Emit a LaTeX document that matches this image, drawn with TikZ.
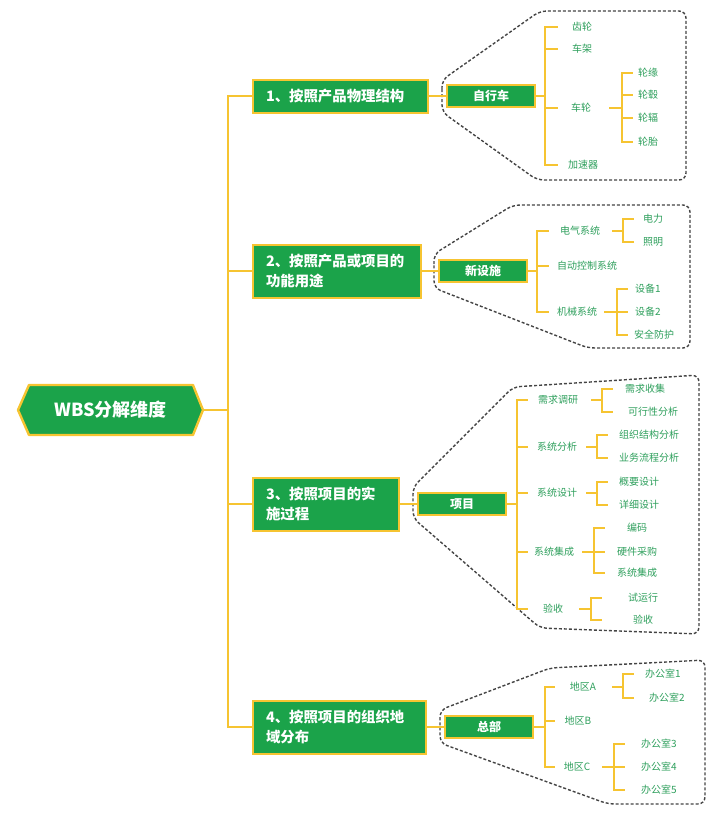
\documentclass[tikz,border=0pt]{standalone}
\usepackage{fontspec}
\setmainfont{Noto Sans CJK SC}
\definecolor{gr}{HTML}{1BA34A}
\definecolor{yl}{HTML}{F6C431}
\definecolor{tg}{HTML}{2E9F5C}
\definecolor{dg}{HTML}{444444}
\tikzset{
 yline/.style={draw=yl, line width=1.8pt, line cap=rect},
 trunk/.style={draw=yl, line width=2.6pt, line cap=rect},
 l1box/.style={fill=gr, draw=yl, line width=2pt, text=white, font=\fontsize{14.4}{20}\selectfont\bfseries, anchor=west, align=left, inner xsep=13pt, inner ysep=0pt},
 l2box/.style={fill=gr, draw=yl, line width=1.8pt, text=white, font=\fontsize{12}{14}\selectfont\bfseries, minimum width=88pt, minimum height=22pt, inner sep=0pt},
 leaf/.style={text=tg, font=\fontsize{10}{12}\selectfont, inner sep=1pt},
 callout/.style={draw=dg, line width=1.4pt, dash pattern=on 3pt off 2pt, rounded corners=7pt},
}
\newcommand\bkt[7]{%
 \draw[yline] (#1) -- (#3,0 |- #2);
 \draw[yline] (#3,0 |- #5) -- (#3,0 |- #6);
 \foreach \c in {#7} {\draw[yline] (#3,0 |- \c) -- (#4,0 |- \c);}
}
\begin{document}
\begin{tikzpicture}[x=1pt,y=-1pt]
\useasboundingbox (0,0) rectangle (720,820);
% callouts
\draw[callout] (442,96) -- (442,80) -- (540,11) -- (686,11) -- (686,180) -- (537,180) -- (442,112) -- cycle;
\draw[callout] (434,271) -- (434,254) -- (513,205) -- (690,205) -- (690,348) -- (588,348) -- (434,288) -- cycle;
\draw[callout] (413,503) -- (413,487) -- (513,387) -- (699,375) -- (699,634) -- (540,628) -- (413,518) -- cycle;
\draw[callout] (440,727) -- (440,710) -- (550,668) -- (705,660) -- (705,804) -- (608,804) -- (440,743) -- cycle;
% root
\fill[gr] (18,410) -- (29,385) -- (193,385) -- (203,410) -- (193,435) -- (29,435) -- cycle;
\draw[yl, line width=2.4pt, line join=round] (18,410) -- (29,385) -- (193,385) -- (203,410) -- (193,435) -- (29,435) -- cycle;
\node[text=white, font=\fontsize{18}{20}\selectfont\bfseries, minimum width=185pt, inner sep=0pt] (root) at (110.5,410) {WBS分解维度};
% level 1
\node[l1box, text width=149pt, minimum height=33pt] (b1) at (252,96) {1、按照产品物理结构};
\node[l1box, text width=142pt, minimum height=53pt] (b2) at (252,271) {2、按照产品或项目的\\功能用途};
\node[l1box, text width=120pt, minimum height=53pt] (b3) at (252,504) {3、按照项目的实\\施过程};
\node[l1box, text width=147pt, minimum height=53pt] (b4) at (252,727) {4、按照项目的组织地\\域分布};
\coordinate (tr) at (228,410);
\draw[trunk] (root.east) -- (tr);
\draw[trunk] (tr |- b1.west) -- (tr |- b4.west);
\foreach \b in {b1,b2,b3,b4} {\draw[trunk] (tr |- \b.west) -- (\b.west);}
% level 2
\node[l2box] (c1) at (491,96) {自行车};
\node[l2box] (c2) at (483,271) {新设施};
\node[l2box] (c3) at (462,504) {项目};
\node[l2box] (c4) at (489,727) {总部};
\foreach \i in {1,2,3,4} {\draw[yline] (b\i.east) -- (c\i.west);}
% group 1
\node[leaf] (a1) at (582,27) {齿轮};
\node[leaf] (a2) at (582,49) {车架};
\node[leaf] (a3) at (581,108) {车轮};
\node[leaf] (a4) at (583,165) {加速器};
\node[leaf] (a31) at (648,73) {轮缘};
\node[leaf] (a32) at (648,95) {轮毂};
\node[leaf] (a33) at (648,118) {轮辐};
\node[leaf] (a34) at (648,142) {轮胎};
\bkt{c1.east}{c1}{545}{557}{a1}{a4}{a1,a2,a3,a4}
\bkt{610,108}{a3}{622}{632}{a31}{a34}{a31,a32,a33,a34}
% group 2
\node[leaf] (e1) at (580,231) {电气系统};
\node[leaf] (e2) at (587,266) {自动控制系统};
\node[leaf] (e3) at (577,312) {机械系统};
\node[leaf] (e11) at (653,219) {电力};
\node[leaf] (e12) at (653,242) {照明};
\node[leaf] (e31) at (648,289) {设备1};
\node[leaf] (e32) at (648,312) {设备2};
\node[leaf] (e33) at (654,335) {安全防护};
\bkt{c2.east}{c2}{537}{548}{e1}{e3}{e1,e2,e3}
\bkt{613,231}{e1}{623}{633}{e11}{e12}{e11,e12}
\bkt{605,312}{e3}{617}{627}{e31}{e33}{e31,e32,e33}
% group 3
\node[leaf] (p1) at (558,400) {需求调研};
\node[leaf] (p2) at (557,447) {系统分析};
\node[leaf] (p3) at (557,493) {系统设计};
\node[leaf] (p4) at (554,552) {系统集成};
\node[leaf] (p5) at (553,609) {验收};
\node[leaf] (p11) at (645,389) {需求收集};
\node[leaf] (p12) at (653,412) {可行性分析};
\node[leaf] (p21) at (649,435) {组织结构分析};
\node[leaf] (p22) at (649,458) {业务流程分析};
\node[leaf] (p31) at (639,482) {概要设计};
\node[leaf] (p32) at (639,505) {详细设计};
\node[leaf] (p41) at (637,528) {编码};
\node[leaf] (p42) at (637,552) {硬件采购};
\node[leaf] (p43) at (637,573) {系统集成};
\node[leaf] (p51) at (643,598) {试运行};
\node[leaf] (p52) at (643,620) {验收};
\bkt{c3.east}{c3}{517}{527}{p1}{p5}{p1,p2,p3,p4,p5}
\bkt{592,400}{p1}{602}{612}{p11}{p12}{p11,p12}
\bkt{587,447}{p2}{597}{607}{p21}{p22}{p21,p22}
\bkt{587,493}{p3}{597}{607}{p31}{p32}{p31,p32}
\bkt{583,552}{p4}{594}{604}{p41}{p43}{p41,p42,p43}
\bkt{580,609}{p5}{591}{601}{p51}{p52}{p51,p52}
% group 4
\node[leaf] (d1) at (583,687) {地区A};
\node[leaf] (d2) at (578,721) {地区B};
\node[leaf] (d3) at (577,767) {地区C};
\node[leaf] (d11) at (663,674) {办公室1};
\node[leaf] (d12) at (667,698) {办公室2};
\node[leaf] (d31) at (659,744) {办公室3};
\node[leaf] (d32) at (659,767) {办公室4};
\node[leaf] (d33) at (659,790) {办公室5};
\bkt{c4.east}{c4}{545}{554}{d1}{d3}{d1,d2,d3}
\bkt{613,687}{d1}{623}{633}{d11}{d12}{d11,d12}
\bkt{603,767}{d3}{614}{624}{d31}{d33}{d31,d32,d33}
\end{tikzpicture}
\end{document}
